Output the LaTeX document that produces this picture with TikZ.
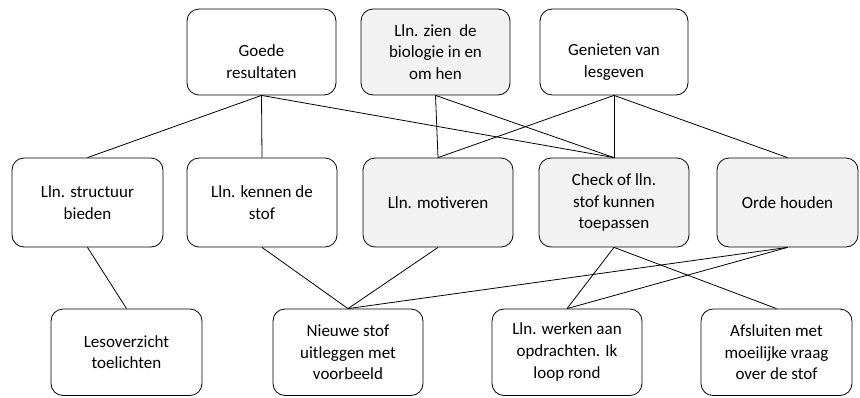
\documentclass[tikz,border=0pt]{standalone}
\usepackage{fontspec}
\setmainfont{Carlito}
\begin{document}
\begin{tikzpicture}[x=1pt,y=-1pt,
  box/.style={draw=black, line width=0.8pt, rounded corners=12pt, fill=white,
    align=center, inner sep=0pt, font=\fontsize{17}{21.8}\selectfont},
  gbox/.style={box, fill=boxgray},
  conn/.style={draw=black, line width=0.8pt}]
\definecolor{boxgray}{HTML}{F2F2F2}
\useasboundingbox (0,0) rectangle (860,397);
% top row
\node[box, minimum width=149pt, minimum height=86pt] (t1) at (261.5,52) {\mbox{}\\[10pt]Goede\\resultaten};
\node[gbox, minimum width=149pt, minimum height=86pt] (t2) at (435.5,52) {Lln. zien\ \ de\\biologie in en\\om hen};
\node[box, minimum width=148pt, minimum height=86pt] (t3) at (614,52) {\mbox{}\\[10pt]Genieten van\\lesgeven};
% middle row
\node[box, minimum width=151pt, minimum height=89pt] (m1) at (87.5,202.5) {Lln. structuur\\bieden};
\node[box, minimum width=150pt, minimum height=89pt] (m2) at (262,202.5) {Lln. kennen de\\stof};
\node[gbox, minimum width=150pt, minimum height=89pt] (m3) at (438,202.5) {Lln. motiveren};
\node[gbox, minimum width=150pt, minimum height=89pt] (m4) at (614,202.5) {Check of lln.\\stof kunnen\\toepassen};
\node[gbox, minimum width=141pt, minimum height=89pt] (m5) at (787.5,202.5) {Orde houden};
% bottom row
\node[box, minimum width=151pt, minimum height=86.5pt] (b1) at (126.5,352.25) {Lesoverzicht\\toelichten};
\node[box, minimum width=150pt, minimum height=86.5pt] (b2) at (348,352.25) {Nieuwe stof\\uitleggen met\\voorbeeld};
\node[box, minimum width=150pt, minimum height=86.5pt] (b3) at (567,352.25) {Lln. werken aan\\opdrachten. Ik\\loop rond};
\node[box, minimum width=151pt, minimum height=86.5pt] (b4) at (776.5,352.25) {Afsluiten met\\moeilijke vraag\\over de stof};
% connectors top -> middle
\draw[conn] (t1.south) -- (m1.north);
\draw[conn] (t1.south) -- (m2.north);
\draw[conn] (t1.south) -- (m4.north);
\draw[conn] (t2.south) -- (m3.north);
\draw[conn] (t2.south) -- (m4.north);
\draw[conn] (t3.south) -- (m3.north);
\draw[conn] (t3.south) -- (m4.north);
\draw[conn] (t3.south) -- (m5.north);
% connectors middle -> bottom
\draw[conn] (m1.south) -- (b1.north);
\draw[conn] (m2.south) -- (b2.north);
\draw[conn] (m3.south) -- (b2.north);
\draw[conn] (m5.south) -- (b2.north);
\draw[conn] (m4.south) -- (b3.north);
\draw[conn] (m4.south) -- (b4.north);
\draw[conn] (m5.south) -- (b3.north);
\end{tikzpicture}
\end{document}
